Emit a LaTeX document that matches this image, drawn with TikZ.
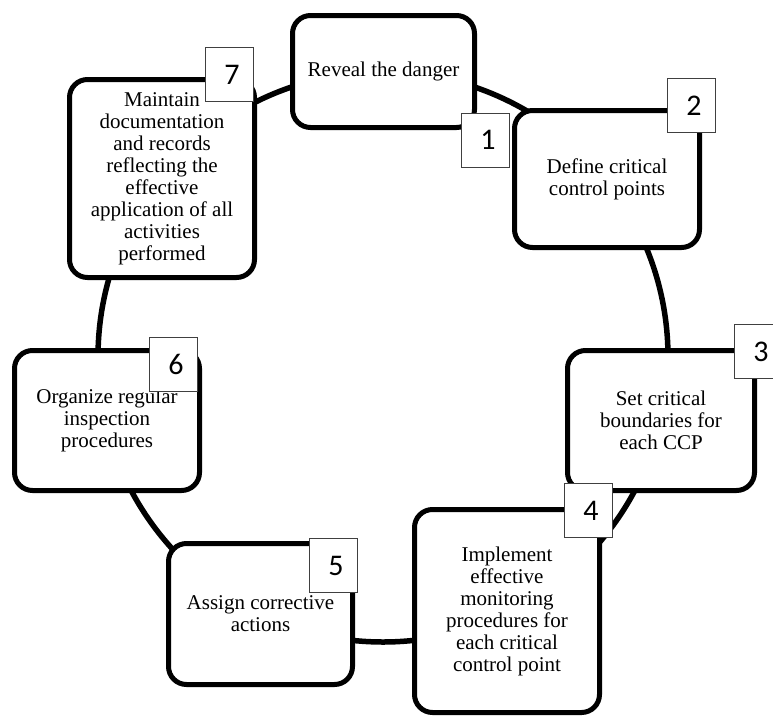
\documentclass[tikz,border=0pt]{standalone}
\usepackage{fontspec}
\setmainfont{Liberation Serif}
\newfontfamily\numfont{Carlito}
\begin{document}
\begin{tikzpicture}[x=1pt,y=1pt,
  stagebox/.style={draw=black, line width=5pt, fill=white, rounded corners=18pt,
    inner sep=0pt, align=center, font=\fontsize{21}{22}\selectfont},
  badge/.style={draw=black!75, line width=1pt, fill=white, minimum width=48pt,
    minimum height=54pt, inner sep=0pt, font=\numfont\fontsize{30}{30}\selectfont}]
\clip (0,0) rectangle (773,-715);
\fill[white] (0,0) rectangle (773,-715);
\coordinate (ring) at (383,-357);
\draw[line width=5.5pt] (ring) circle (285);
% stages
\node[stagebox, minimum width=182pt, minimum height=112pt] (s1) at (383.5,-71.5) {Reveal the danger};
\node[stagebox, minimum width=185pt, minimum height=137pt] (s2) at (607,-179) {Define critical\\control points};
\node[stagebox, minimum width=187pt, minimum height=140pt] (s3) at (661,-420.5) {Set critical\\boundaries for\\each CCP};
\node[stagebox, minimum width=185pt, minimum height=203pt] (s4) at (507,-611) {Implement\\effective\\monitoring\\procedures for\\each critical\\control point};
\node[stagebox, minimum width=184pt, minimum height=141pt] (s5) at (260.5,-614) {Assign corrective\\actions};
\node[stagebox, minimum width=185pt, minimum height=140pt] (s6) at (107,-420.5) {Organize regular\\inspection\\procedures};
\node[stagebox, minimum width=185pt, minimum height=198pt] (s7) at (162,-178.5) {Maintain\\documentation\\and records\\reflecting the\\effective\\application of all\\activities\\performed};
% badges
\node[badge] (n1) at (485.5,-140) {\hspace*{5pt}1};
\node[badge] (n2) at (691.5,-105.5) {\hspace*{5pt}2};
\node[badge] (n3) at (758.5,-351.5) {\hspace*{5pt}3};
\node[badge] (n4) at (588.5,-510.5) {\hspace*{5pt}4};
\node[badge] (n5) at (333.5,-565.5) {\hspace*{5pt}5};
\node[badge] (n6) at (173.5,-364.5) {\hspace*{5pt}6};
\node[badge] (n7) at (229.5,-74.5) {\hspace*{5pt}7};
\end{tikzpicture}
\end{document}
